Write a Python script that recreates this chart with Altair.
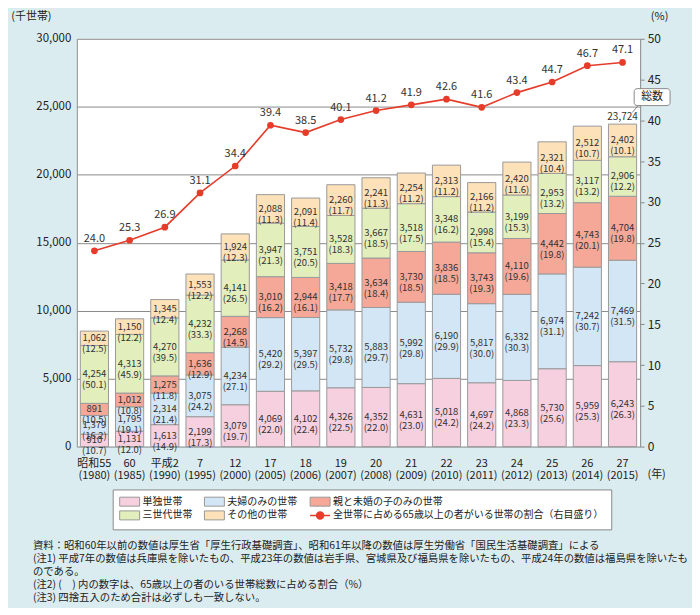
import altair as alt
import pandas as pd

periods = ["昭和55", "60", "平成2", "7", "12", "17", "18", "19", "20", "21", "22", "23", "24", "25", "26", "27"]
years = [1980, 1985, 1990, 1995, 2000, 2005, 2006, 2007, 2008, 2009, 2010, 2011, 2012, 2013, 2014, 2015]

types = ["単独世帯", "夫婦のみの世帯", "親と未婚の子のみの世帯", "三世代世帯", "その他の世帯"]
line_name = "全世帯に占める65歳以上の者がいる世帯の割合（右目盛り）"

single = [910, 1131, 1613, 2199, 3079, 4069, 4102, 4326, 4352, 4631, 5018, 4697, 4868, 5730, 5959, 6243]
single_pct = [10.7, 12.0, 14.9, 17.3, 19.7, 22.0, 22.4, 22.5, 22.0, 23.0, 24.2, 24.2, 23.3, 25.6, 25.3, 26.3]
couple = [1379, 1795, 2314, 3075, 4234, 5420, 5397, 5732, 5883, 5992, 6190, 5817, 6332, 6974, 7242, 7469]
couple_pct = [16.2, 19.1, 21.4, 24.2, 27.1, 29.2, 29.5, 29.8, 29.7, 29.8, 29.9, 30.0, 30.3, 31.1, 30.7, 31.5]
parent_child = [891, 1012, 1275, 1636, 2268, 3010, 2944, 3418, 3634, 3730, 3836, 3743, 4110, 4442, 4743, 4704]
parent_child_pct = [10.5, 10.8, 11.8, 12.9, 14.5, 16.2, 16.1, 17.7, 18.4, 18.5, 18.5, 19.3, 19.6, 19.8, 20.1, 19.8]
three_gen = [4254, 4313, 4270, 4232, 4141, 3947, 3751, 3528, 3667, 3518, 3348, 2998, 3199, 2953, 3117, 2906]
three_gen_pct = [50.1, 45.9, 39.5, 33.3, 26.5, 21.3, 20.5, 18.3, 18.5, 17.5, 16.2, 15.4, 15.3, 13.2, 13.2, 12.2]
other = [1062, 1150, 1345, 1553, 1924, 2088, 2091, 2260, 2241, 2254, 2313, 2166, 2420, 2321, 2512, 2402]
other_pct = [12.5, 12.2, 12.4, 12.2, 12.3, 11.3, 11.4, 11.7, 11.3, 11.2, 11.2, 11.2, 11.6, 10.4, 10.7, 10.1]
ratio = [24.0, 25.3, 26.9, 31.1, 34.4, 39.4, 38.5, 40.1, 41.2, 41.9, 42.6, 41.6, 43.4, 44.7, 46.7, 47.1]
total_2015 = 23724

notes = [
    "資料：昭和60年以前の数値は厚生省「厚生行政基礎調査」、昭和61年以降の数値は厚生労働省「国民生活基礎調査」による",
    "(注1) 平成7年の数値は兵庫県を除いたもの、平成23年の数値は岩手県、宮城県及び福島県を除いたもの、平成24年の数値は福島県を除いたも",
    "\u3000\u3000\u2002\u2002のである。",
    "(注2) (\u3000) 内の数字は、65歳以上の者のいる世帯総数に占める割合（%）",
    "(注3) 四捨五入のため合計は必ずしも一致しない。",
]

colors = ["#f7d0e0", "#d3e6f5", "#f5a898", "#e2efbd", "#fde1b8", "#e63c2a"]
RED = "#e63c2a"
FONT = "Noto Sans CJK JP"

cats = [f"{p}\n({y})" for p, y in zip(periods, years)]

series_vals = [single, couple, parent_child, three_gen, other]
series_pcts = [single_pct, couple_pct, parent_child_pct, three_gen_pct, other_pct]
rows = []
for k, (t, vals, pcts) in enumerate(zip(types, series_vals, series_pcts)):
    for c, v, p in zip(cats, vals, pcts):
        rows.append({"cat": c, "type": t, "order": k, "value": v, "pct": p})
bar_df = pd.DataFrame(rows)
line_df = pd.DataFrame({"cat": cats, "ratio": ratio})
total_df = pd.DataFrame({"cat": [cats[-1]], "total": [total_2015]})

x_sort = cats
x_main = alt.X(
    "cat:N", sort=x_sort,
    scale=alt.Scale(paddingInner=0.2, paddingOuter=0.1),
    axis=alt.Axis(
        title="(年)", labelExpr="split(datum.label, '\\n')", labelAngle=0,
        domain=False, ticks=False, labelFontSize=11, labelLineHeight=12,
        labelPadding=11, labelColor="#222", labelBaseline="top",
        titleX=581, titleY=28, titleAngle=0, titleAlign="center",
        titleBaseline="middle", titleFontWeight="normal", titleFontSize=11,
        titleColor="#222",
    ),
)
x_plain = alt.X("cat:N", sort=x_sort)

y_left_scale = alt.Scale(domain=[0, 30000])
y_right_scale = alt.Scale(domain=[0, 50])

rect_path = "M-1,-0.9H3V0.9H-1Z"
line_path = "M-1,0H3M0.3,0A0.7,0.7,0,1,1,1.7,0A0.7,0.7,0,1,1,0.3,0"

legend = alt.Legend(
    title=None, orient="none", legendX=36, legendY=452, columns=3, direction="horizontal",
    fillColor="white", strokeColor="#8a8a8a", padding=7,
    labelFontSize=10, labelFont=FONT, labelColor="#222", labelLimit=500,
    symbolSize=100, labelOffset=13, columnPadding=10, rowPadding=0,
    symbolType=alt.ExprRef(f"datum.value === '{line_name}' ? '{line_path}' : '{rect_path}'"),
    symbolStrokeColor=alt.ExprRef(f"datum.value === '{line_name}' ? '{RED}' : '#999999'"),
    symbolStrokeWidth=alt.ExprRef(f"datum.value === '{line_name}' ? 1.5 : 1"),
    symbolOpacity=1,
)

bars = alt.Chart(bar_df).mark_bar(stroke="#9a9a9a", strokeWidth=1, opacity=1).encode(
    x=x_main,
    y=alt.Y(
        "value:Q", scale=y_left_scale, stack="zero",
        axis=alt.Axis(
            values=list(range(0, 30001, 5000)), format=",d", title="(千世帯)",
            titleAngle=0, titleX=-46, titleY=-22, titleAlign="center",
            titleBaseline="middle", titleFontWeight="normal", titleFontSize=11,
            titleColor="#222", grid=True, gridColor="#8a8a8a", domainColor="#8a8a8a",
            ticks=False, labelPadding=6, labelFontSize=11.5, labelColor="#222",
        ),
    ),
    color=alt.Color("type:N", scale=alt.Scale(domain=types + [line_name], range=colors), legend=legend),
    order=alt.Order("order:Q", sort="ascending"),
)

bar_text = alt.Chart(bar_df).transform_stack(
    stack="value", groupby=["cat"], as_=["y0", "y1"], sort=[alt.SortField("order", order="ascending")]
).transform_calculate(
    mid="(datum.y0 + datum.y1) / 2",
    label="format(datum.value, ',') + '\\n(' + format(datum.pct, '.1f') + ')'",
).mark_text(lineBreak="\n", fontSize=9.5, lineHeight=11, color="#333").encode(
    x=x_plain,
    y=alt.Y("mid:Q", scale=y_left_scale, axis=None),
    text="label:N",
)

total_text = alt.Chart(total_df).mark_text(fontSize=10, dy=-7, color="#333").encode(
    x=x_plain,
    y=alt.Y("total:Q", scale=y_left_scale, axis=None),
    text=alt.Text("total:Q", format=","),
)

line = alt.Chart(line_df).mark_line(color=RED, strokeWidth=1.6).encode(
    x=x_plain,
    y=alt.Y(
        "ratio:Q", scale=y_right_scale,
        axis=alt.Axis(
            orient="right", values=list(range(0, 51, 5)), title="(%)",
            titleAngle=0, titleX=19, titleY=-22, titleAlign="center",
            titleBaseline="middle", titleFontWeight="normal", titleFontSize=11,
            titleColor="#222", grid=False, domainColor="#8a8a8a", tickColor="#8a8a8a",
            tickSize=4, labelPadding=3, labelFontSize=12, labelColor="#222",
        ),
    ),
)
points = alt.Chart(line_df).mark_point(filled=True, size=45, color=RED, opacity=1).encode(
    x=x_plain, y=alt.Y("ratio:Q", scale=y_right_scale, axis=None),
)
line_text = alt.Chart(line_df).mark_text(fontSize=11, dy=-12, color="#333").encode(
    x=x_plain, y=alt.Y("ratio:Q", scale=y_right_scale, axis=None),
    text=alt.Text("ratio:Q", format=".1f"),
)

one = pd.DataFrame({"k": [0]})
callout_box = alt.Chart(one).mark_rect(fill="white", stroke="#8a8a8a", strokeWidth=1, cornerRadius=3).encode(
    x=alt.value(559), x2=alt.value(595), y=alt.value(50), y2=alt.value(67)
)
callout_text = alt.Chart(one).mark_text(text="総数", fontSize=11, color="#222").encode(
    x=alt.value(577), y=alt.value(58.5)
)
callout_ptr = alt.Chart(one).mark_rule(color="#8a8a8a", strokeWidth=1).encode(
    x=alt.value(563), x2=alt.value(557), y=alt.value(67), y2=alt.value(74)
)

chart = alt.layer(
    bars, bar_text, total_text, line, points, line_text, callout_box, callout_ptr, callout_text
).resolve_scale(y="independent").properties(
    width=565, height=409,
    padding={"left": 2, "top": 2, "right": 4, "bottom": 4},
    title=alt.TitleParams(
        text=notes, orient="bottom", anchor="start", frame="group", dx=-44, offset=11,
        fontSize=10.4, lineHeight=13, fontWeight="normal", color="#222", font=FONT,
    ),
).configure(
    background="#dbecf0", font=FONT
).configure_view(fill="white", stroke=None)

chart.save("out.html", embed_options={"renderer": "svg", "actions": False})
